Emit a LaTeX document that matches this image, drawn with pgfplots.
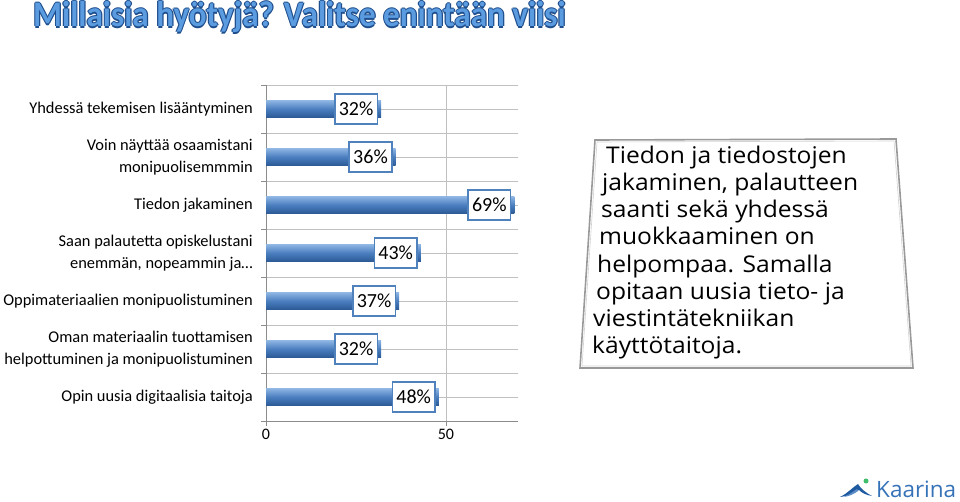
\documentclass[border=0pt]{standalone}
\usepackage{fontspec}
\setmainfont{Carlito}
\newfontfamily\opensans{Open Sans}
\usepackage{pgfplots}
\pgfplotsset{compat=1.18}
\definecolor{barlight}{HTML}{8DB4E3}
\definecolor{barmid}{HTML}{4A7EBF}
\definecolor{bardark}{HTML}{2C5A96}
\definecolor{labelblue}{HTML}{4F81BD}
\definecolor{gridgray}{HTML}{C0C0C0}
\definecolor{axisgray}{HTML}{8C8C8C}
\definecolor{titlefill}{HTML}{5B9BE0}
\definecolor{titleline}{HTML}{1F4E8C}
\definecolor{kaarina}{HTML}{3572B8}
\definecolor{kaarinadark}{HTML}{1E5AA0}
\definecolor{kgreen}{HTML}{3DBE6A}
\begin{document}
\begin{tikzpicture}[x=1pt,y=1pt]
\useasboundingbox (0,0) rectangle (960,501);
% title with outline
\newcommand{\titletext}{\scalebox{0.92}[1]{\fontsize{36}{40}\selectfont\bfseries Millaisia hyötyjä? Valitse enintään viisi}}
\foreach \dx/\dy in {-1.2/0,1.2/0,0/-1.2,0/1.2}{
  \node[anchor=base west, inner sep=0pt, text=titleline] at (33+\dx,474+\dy) {\titletext};
}
\node[anchor=base west, inner sep=0pt, text=titlefill] at (33,474) {\titletext};

\begin{axis}[
  at={(266pt,80pt)}, anchor=south west, scale only axis,
  width=252pt, height=336pt,
  xmin=0, xmax=70, ymin=0.5, ymax=7.5, y dir=reverse,
  xbar, bar width=17pt,
  axis x line*=bottom, axis y line*=left,
  axis line style={draw=axisgray, line width=0.8pt, -},
  xtick={0,50}, xmajorgrids,
  ytick={0.5,1.5,...,7.5}, yticklabels={},
  extra y ticks={1,2,3,4,5,6,7},
  extra y tick labels={
    {Yhdessä tekemisen lisääntyminen},
    {Voin näyttää osaamistani\\monipuolisemmmin},
    {Tiedon jakaminen},
    {Saan palautetta opiskelustani\\enemmän, nopeammin ja…},
    {Oppimateriaalien monipuolistuminen},
    {Oman materiaalin tuottamisen\\helpottuminen ja monipuolistuminen},
    {Opin uusia digitaalisia taitoja}},
  extra y tick style={major tick length=0pt},
  ymajorgrids, grid style={draw=gridgray, line width=0.7pt},
  major tick length=5pt, tick align=outside,
  tick style={draw=axisgray, line width=0.8pt},
  yticklabel style={align=right, font=\fontsize{16.4}{22.5}\selectfont, inner sep=0pt, xshift=-13pt},
  xticklabel style={font=\fontsize{16}{18}\selectfont},
  /pgf/number format/assume math mode=true,
  nodes near coords={\pgfmathprintnumber{\pgfplotspointmeta}\%},
  every node near coord/.append style={anchor=east, xshift=-3pt, draw=labelblue, line width=1.6pt, fill=white, text=black, font=\fontsize{20}{22}\selectfont, inner xsep=4pt, minimum height=30pt},
  barstyle/.style={draw=none, bar shift=0pt, top color=barlight, bottom color=bardark, middle color=barmid},
]
\addplot[barstyle] coordinates {(32,1)};
\addplot[barstyle] coordinates {(36,2)};
\addplot[barstyle] coordinates {(69,3)};
\addplot[barstyle] coordinates {(43,4)};
\addplot[barstyle] coordinates {(37,5)};
\addplot[barstyle] coordinates {(32,6)};
\addplot[barstyle] coordinates {(48,7)};
\end{axis}

% text box
\draw[draw=gray!80, line width=1.6pt] (595,361) -- (896,362) -- (913,133) -- (580,133) -- cycle;
\draw[draw=gray!35, line width=0.6pt] (597,359) -- (894,360) -- (911,135) -- (582,135) -- cycle;
\newcommand{\bx}[1]{\scalebox{1.07}[1]{\opensans\fontsize{23}{25}\selectfont #1}}
\begin{scope}[every node/.style={anchor=base west, inner sep=0pt}]
\node at (606,337) {\bx{Tiedon ja tiedostojen}};
\node at (602,310) {\bx{jakaminen, palautteen}};
\node at (601,283) {\bx{saanti sekä yhdessä}};
\node at (599,256) {\bx{muokkaaminen on}};
\node at (597,229) {\bx{helpompaa. Samalla}};
\node at (596,202) {\bx{opitaan uusia tieto- ja}};
\node at (593,175) {\bx{viestintätekniikan}};
\node at (592,148) {\bx{käyttötaitoja.}};
\end{scope}

% logo
\node[anchor=base west, inner sep=0pt, text=kaarina, font=\opensans\fontsize{22.5}{24}\selectfont] at (876,4) {Kaarina};
\fill[kaarinadark] (840,4) .. controls (848,8) and (853,14) .. (858,17) .. controls (860,13) and (866,8) .. (872,5) .. controls (866,6) and (862,8) .. (859,11) .. controls (855,8) and (848,5) .. cycle;
\fill[kaarina!80] (844,4) .. controls (850,7) and (854,10) .. (857,12) -- (858,10) .. controls (854,7) and (850,5) .. cycle;
\fill[kgreen] (866,20) circle (2.5);
\end{tikzpicture}
\end{document}
